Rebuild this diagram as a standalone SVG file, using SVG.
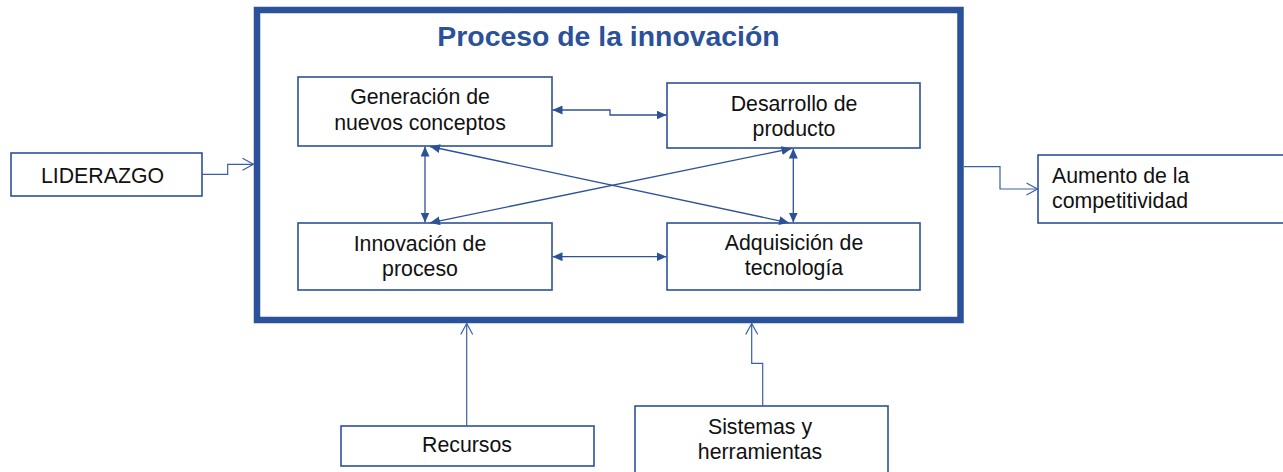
<svg xmlns="http://www.w3.org/2000/svg" width="1283" height="472" viewBox="0 0 1283 472">
<style>
.box{fill:#fff;stroke:#2d5198;stroke-width:1.6}
.frame{fill:none;stroke:#2a5199;stroke-width:6.5}
.lbl{font-family:"Liberation Sans",Arial,sans-serif;font-size:21.3px;fill:#111}
.title{font-family:"Liberation Sans",Arial,sans-serif;font-size:28.4px;font-weight:bold;fill:#2a5199}
.c{fill:none;stroke:#2d5198;stroke-width:1.3}
.ce{fill:none;stroke:#3a5fa6;stroke-width:1.2}
</style>
<defs>
<marker id="tri" markerUnits="userSpaceOnUse" markerWidth="10" markerHeight="9" refX="10" refY="4.5" orient="auto-start-reverse" viewBox="0 0 10 9">
<path d="M0,0 L10,4.5 L0,9 z" fill="#2d5198"/>
</marker>
<marker id="open" markerUnits="userSpaceOnUse" markerWidth="14" markerHeight="14" refX="12" refY="7" orient="auto" viewBox="0 0 14 14">
<path d="M1,1 L12,7 L1,13" fill="none" stroke="#3a5fa6" stroke-width="1.2"/>
</marker>
</defs>
<rect width="1283" height="472" fill="#fff"/>

<g id="proceso">
<rect class="frame" x="257" y="10" width="703.5" height="310"/>
<text class="title" x="608.5" y="46" text-anchor="middle">Proceso de la innovación</text>
</g>

<g id="liderazgo">
<rect class="box" x="11" y="153" width="191" height="43"/>
<text class="lbl" x="102.5" y="183" text-anchor="middle">LIDERAZGO</text>
</g>

<g id="generacion">
<rect class="box" x="298" y="77" width="254" height="69"/>
<text class="lbl" x="420" y="104" text-anchor="middle">Generación de</text>
<text class="lbl" x="420" y="129.5" text-anchor="middle">nuevos conceptos</text>
</g>

<g id="desarrollo">
<rect class="box" x="667" y="83" width="253" height="65"/>
<text class="lbl" x="794" y="110.5" text-anchor="middle">Desarrollo de</text>
<text class="lbl" x="794" y="136" text-anchor="middle">producto</text>
</g>

<g id="innovacion">
<rect class="box" x="298" y="223" width="254" height="67"/>
<text class="lbl" x="420" y="250.5" text-anchor="middle">Innovación de</text>
<text class="lbl" x="420" y="276" text-anchor="middle">proceso</text>
</g>

<g id="adquisicion">
<rect class="box" x="667" y="223" width="253" height="67"/>
<text class="lbl" x="794" y="249.5" text-anchor="middle">Adquisición de</text>
<text class="lbl" x="794" y="274.5" text-anchor="middle">tecnología</text>
</g>

<g id="aumento">
<rect class="box" x="1038" y="155" width="260" height="68"/>
<text class="lbl" x="1052" y="182.5">Aumento de la</text>
<text class="lbl" x="1052" y="208">competitividad</text>
</g>

<g id="recursos">
<rect class="box" x="341" y="426" width="253" height="40"/>
<text class="lbl" x="467" y="452" text-anchor="middle">Recursos</text>
</g>

<g id="sistemas">
<rect class="box" x="635" y="406" width="253" height="80"/>
<text class="lbl" x="760" y="434" text-anchor="middle">Sistemas y</text>
<text class="lbl" x="760" y="458.5" text-anchor="middle">herramientas</text>
</g>

<g id="connectors">
<path class="ce" d="M202,174.3 H227.7 V164.3 H253.5" marker-end="url(#open)"/>
<path class="ce" d="M964,166.7 H1000 V189 H1037.5" marker-end="url(#open)"/>
<path class="ce" d="M466.7,426 V323.5" marker-end="url(#open)"/>
<path class="ce" d="M762.7,406 V363.3 H751.7 V323.5" marker-end="url(#open)"/>

<path class="c" d="M552.5,110 H610 V115 H666.5" marker-start="url(#tri)" marker-end="url(#tri)"/>
<path class="c" d="M552.5,256.7 H666.5" marker-start="url(#tri)" marker-end="url(#tri)"/>
<path class="c" d="M425,146.5 V222.5" marker-start="url(#tri)" marker-end="url(#tri)"/>
<path class="c" d="M793.3,148.5 V222.5" marker-start="url(#tri)" marker-end="url(#tri)"/>
<path class="c" d="M430,146.5 L789,222.8" marker-start="url(#tri)" marker-end="url(#tri)"/>
<path class="c" d="M430,222.8 L791.5,148.5" marker-start="url(#tri)" marker-end="url(#tri)"/>
</g>
</svg>
